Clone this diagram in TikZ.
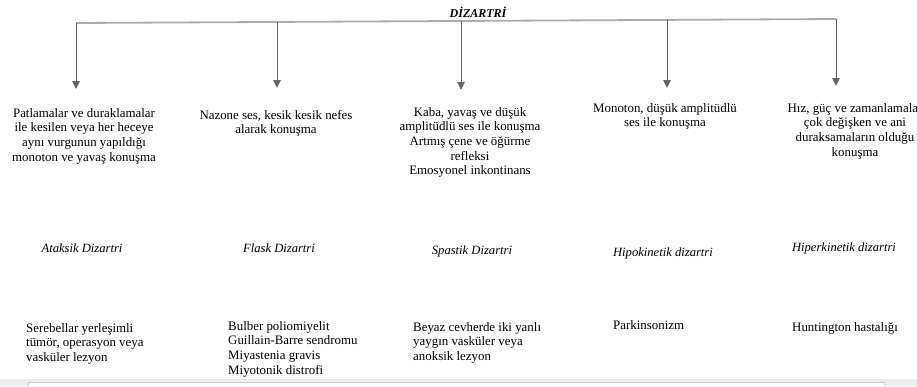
\documentclass[tikz,border=0pt]{standalone}
\usepackage{fontspec}
\setmainfont{Liberation Serif}
\usetikzlibrary{arrows.meta}

\tikzset{
  bar/.style={draw=gray!65, line width=1.8pt},
  branch/.style={draw=gray!80!black, line width=0.9pt,
    -{Triangle[width=7.5pt,length=8pt]}},
  rootlabel/.style={font=\fontsize{12}{14}\selectfont\bfseries\itshape, inner sep=0pt},
  desc/.style={font=\fontsize{12.9}{14.7}\selectfont, align=center, anchor=north, inner sep=0pt},
  kind/.style={font=\fontsize{12.6}{14}\selectfont\itshape, anchor=base, inner sep=0pt},
  cause/.style={font=\fontsize{12.9}{14.7}\selectfont, align=left, anchor=north west, inner sep=0pt}
}

\begin{document}
\begin{tikzpicture}[x=1pt, y=-1pt]
  \useasboundingbox (0,0) rectangle (917,386);

  % root
  \node[rootlabel] (root) at (478,12) {DİZARTRİ};

  % horizontal bar and branch points
  \coordinate (b1) at (76,23);
  \coordinate (b2) at (277,22);
  \coordinate (b3) at (461,21);
  \coordinate (b4) at (667,20);
  \coordinate (b5) at (836,19);
  \draw[bar] (b1) -- (b5);

  % arrow ends
  \coordinate (t1) at (76,89);
  \coordinate (t2) at (277,88);
  \coordinate (t3) at (461,90);
  \coordinate (t4) at (667,88);
  \coordinate (t5) at (836,86);
  \foreach \i in {1,...,5} \draw[branch] (b\i) -- (t\i);

  % speech characteristics
  \node[desc] (d1) at (84,108) {Patlamalar ve duraklamalar\\ile kesilen veya her heceye\\aynı vurgunun yapıldığı\\monoton ve yavaş konuşma};
  \node[desc] (d2) at (276,110) {Nazone ses, kesik kesik nefes\\alarak konuşma};
  \node[desc] (d3) at (470,107) {Kaba, yavaş ve düşük\\amplitüdlü ses ile konuşma\\Artmış çene ve öğürme\\refleksi\\Emosyonel inkontinans};
  \node[desc] (d4) at (665,103) {Monoton, düşük amplitüdlü\\ses ile konuşma};
  \node[desc] (d5) at (855,103) {Hız, güç ve zamanlamalar\\çok değişken ve ani\\duraksamaların olduğu\\konuşma};

  % dysarthria types
  \node[kind] (n1) at (82,252) {Ataksik Dizartri};
  \node[kind] (n2) at (279,252) {Flask Dizartri};
  \node[kind] (n3) at (472,254) {Spastik Dizartri};
  \node[kind] (n4) at (663,256) {Hipokinetik dizartri};
  \node[kind] (n5) at (844,251) {Hiperkinetik dizartri};

  % causes
  \node[cause] (c1) at (26,323) {Serebellar yerleşimli\\tümör, operasyon veya\\vasküler lezyon};
  \node[cause] (c2) at (228,321) {Bulber poliomiyelit\\Guillain-Barre sendromu\\Miyastenia gravis\\Miyotonik distrofi};
  \node[cause] (c3) at (413,322) {Beyaz cevherde iki yanlı\\yaygın vasküler veya\\anoksik lezyon};
  \node[cause] (c4) at (613,320) {Parkinsonizm};
  \node[cause] (c5) at (792,322) {Huntington hastalığı};

  % bottom strip
  \fill[gray!14] (0,379) rectangle (917,386);
  \fill[white] (28,382) rectangle (884,386);
  \draw[gray!40, line width=0.6pt] (28,386) -- (28,382) -- (884,382) -- (884,386);
\end{tikzpicture}
\end{document}
